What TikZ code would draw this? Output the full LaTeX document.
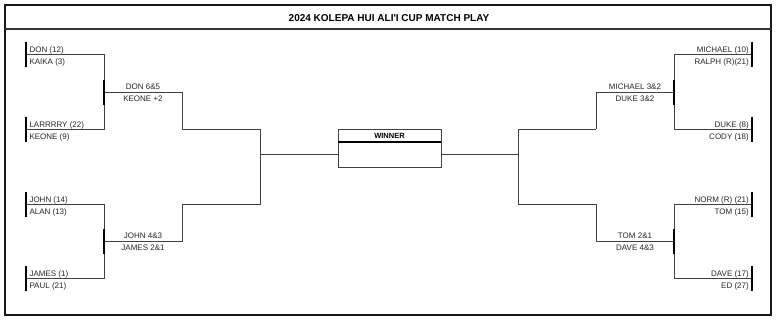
\documentclass[tikz,border=0pt]{standalone}
\usepackage{fontspec}
\setmainfont{Liberation Sans}
\usetikzlibrary{calc, positioning}

\begin{document}
\begin{tikzpicture}[x=1pt, y=-1pt,
        lbl/.style={font=\fontsize{8}{9}\selectfont, text=black!85, inner sep=0pt},
        seedL/.style={lbl, anchor=base west},
        seedR/.style={lbl, anchor=base east},
        score/.style={lbl, anchor=base},
        wire/.style={draw=black!75, line width=0.8pt},
        bar/.style={draw=black, line width=2.4pt}]
        \useasboundingbox (0,0) rectangle (779,322);
        \draw[line width=2pt, draw=black!90] (5,5) rectangle (771,315);
        \draw[line width=1.5pt, draw=black!80] (5,29) -- (771,29);
        \node[font=\bfseries\fontsize{10}{11}\selectfont, anchor=base, inner sep=0pt] (title) at (389,21.3) {2024 KOLEPA HUI ALI\textquotesingle I CUP MATCH PLAY};

        \coordinate (lA) at (26,54);
        \coordinate (lB) at (26,129);
        \coordinate (lC) at (26,204);
        \coordinate (lD) at (26,278);
        \coordinate (lAB) at (104,92);
        \coordinate (lCD) at (104,241);
        \coordinate (lTop) at (182,129);
        \coordinate (lBot) at (182,204);
        \coordinate (lFin) at (260,154);

        \coordinate (rA) at (752,54);
        \coordinate (rB) at (752,129);
        \coordinate (rC) at (752,204);
        \coordinate (rD) at (752,278);
        \coordinate (rAB) at (674,92);
        \coordinate (rCD) at (674,241);
        \coordinate (rTop) at (596,129);
        \coordinate (rBot) at (596,204);
        \coordinate (rFin) at (518,154);

        \node[draw=black!75, line width=0.8pt, minimum width=103pt, minimum height=38pt, inner sep=0pt] (winner) at (389.5,148) {};
        \draw[line width=2pt] ($(winner.north west)+(0,13)$) -- ($(winner.north east)+(0,13)$);
        \node[font=\bfseries\fontsize{7.5}{8}\selectfont, anchor=base, inner sep=0pt] (wlbl) at (389.5,138) {WINNER};

        \draw[wire] (lA) -| (lAB);
        \draw[wire] (lB) -| (lAB);
        \draw[wire] (lC) -| (lCD);
        \draw[wire] (lD) -| (lCD);
        \draw[wire] (lAB) -| (lTop);
        \draw[wire] (lCD) -| (lBot);
        \draw[wire] (lTop) -| (lFin);
        \draw[wire] (lBot) -| (lFin);
        \draw[wire] (lFin) -- (lFin -| winner.west);

        \draw[wire] (rA) -| (rAB);
        \draw[wire] (rB) -| (rAB);
        \draw[wire] (rC) -| (rCD);
        \draw[wire] (rD) -| (rCD);
        \draw[wire] (rAB) -| (rTop);
        \draw[wire] (rCD) -| (rBot);
        \draw[wire] (rTop) -| (rFin);
        \draw[wire] (rBot) -| (rFin);
        \draw[wire] (rFin) -- (rFin -| winner.east);

        \draw[bar] (lA) ++(0,-12.5) -- ++(0,25);
        \draw[bar] (lB) ++(0,-12.5) -- ++(0,25);
        \draw[bar] (lC) ++(0,-12.5) -- ++(0,25);
        \draw[bar] (lD) ++(0,-12.5) -- ++(0,25);
        \draw[bar] (lAB) ++(0,-12.5) -- ++(0,25);
        \draw[bar] (lCD) ++(0,-12.5) -- ++(0,25);
        \draw[bar] (rA) ++(0,-12.5) -- ++(0,25);
        \draw[bar] (rB) ++(0,-12.5) -- ++(0,25);
        \draw[bar] (rC) ++(0,-12.5) -- ++(0,25);
        \draw[bar] (rD) ++(0,-12.5) -- ++(0,25);
        \draw[bar] (rAB) ++(0,-12.5) -- ++(0,25);
        \draw[bar] (rCD) ++(0,-12.5) -- ++(0,25);

        \node[seedL] (don) at ($(lA)+(3.3,-2)$) {DON (12)};
        \node[seedL] (kaika) at ($(lA)+(3.3,10)$) {KAIKA (3)};
        \node[seedL] (larry) at ($(lB)+(3.3,-2)$) {LARRRRY (22)};
        \node[seedL] (keone) at ($(lB)+(3.3,10)$) {KEONE (9)};
        \node[seedL] (john) at ($(lC)+(3.3,-2)$) {JOHN (14)};
        \node[seedL] (alan) at ($(lC)+(3.3,10)$) {ALAN (13)};
        \node[seedL] (james) at ($(lD)+(3.3,-2)$) {JAMES (1)};
        \node[seedL] (paul) at ($(lD)+(3.3,10)$) {PAUL (21)};

        \node[score] (donwin) at ($(lAB)+(39,-2.5)$) {DON 6\&5};
        \node[score] (keonewin) at ($(lAB)+(39,9.5)$) {KEONE +2};
        \node[score] (johnwin) at ($(lCD)+(39,-2.5)$) {JOHN 4\&3};
        \node[score] (jameswin) at ($(lCD)+(39,9.5)$) {JAMES 2\&1};

        \node[seedR] (michael) at ($(rA)+(-3,-2)$) {MICHAEL (10)};
        \node[seedR] (ralph) at ($(rA)+(-3,10)$) {RALPH (R)(21)};
        \node[seedR] (duke) at ($(rB)+(-3,-2)$) {DUKE (8)};
        \node[seedR] (cody) at ($(rB)+(-3,10)$) {CODY (18)};
        \node[seedR] (norm) at ($(rC)+(-3,-2)$) {NORM (R) (21)};
        \node[seedR] (tom) at ($(rC)+(-3,10)$) {TOM (15)};
        \node[seedR] (dave) at ($(rD)+(-3,-2)$) {DAVE (17)};
        \node[seedR] (ed) at ($(rD)+(-3,10)$) {ED (27)};

        \node[score] (michaelwin) at ($(rAB)+(-39,-2.5)$) {MICHAEL 3\&2};
        \node[score] (dukewin) at ($(rAB)+(-39,9.5)$) {DUKE 3\&2};
        \node[score] (tomwin) at ($(rCD)+(-39,-2.5)$) {TOM 2\&1};
        \node[score] (davewin) at ($(rCD)+(-39,9.5)$) {DAVE 4\&3};
    \end{tikzpicture}
\end{document}
